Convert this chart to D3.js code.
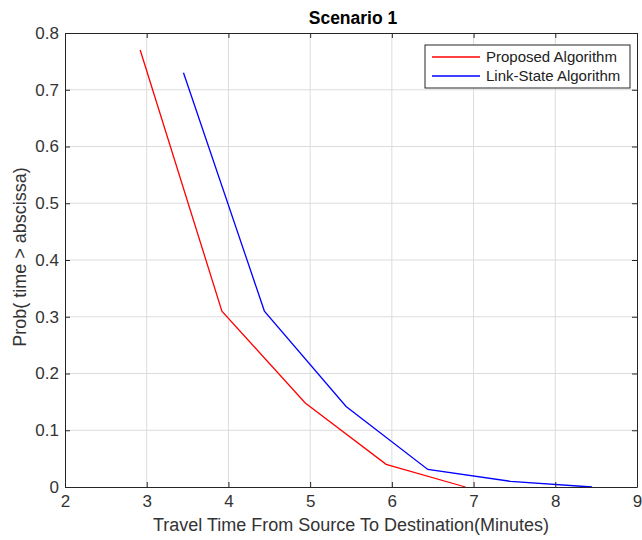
<!DOCTYPE html>
<html><head><meta charset="utf-8">
<script src="https://cdn.jsdelivr.net/npm/d3@7"></script>
<style>body{margin:0;background:#fff;}svg{display:block;font-family:"Liberation Sans",Arial,sans-serif;}</style>
</head><body>
<script>
const title = "Scenario 1";
const xLabel = "Travel Time From Source To Destination(Minutes)";
const yLabel = "Prob( time > abscissa)";
const xTicks = [2,3,4,5,6,7,8,9];
const yTicks = [0,0.1,0.2,0.3,0.4,0.5,0.6,0.7,0.8];
const seriesNames = ["Proposed Algorithm","Link-State Algorithm"];
const seriesColors = ["#ff0000","#0000ff"];
const proposedX = [2.92, 3.92, 4.94, 5.93, 6.9];
const proposedY = [0.77, 0.31, 0.148, 0.04, 0];
const linkX = [3.45, 4.44, 5.44, 6.44, 7.45, 8.45];
const linkY = [0.73, 0.31, 0.142, 0.031, 0.01, 0];

(function(){
const W = 642, H = 540;
const m = {left:65, right:5, top:33, bottom:53};
const svg = d3.select("body").append("svg").attr("width",W).attr("height",H);
const x = d3.scaleLinear().domain([2,9]).range([m.left, W-m.right]);
const y = d3.scaleLinear().domain([0,0.8]).range([H-m.bottom, m.top]);
const x0=m.left, x1=W-m.right, y0=H-m.bottom, y1=m.top;

// grid
svg.append("g").selectAll("line").data(xTicks.slice(1,-1)).join("line")
  .attr("x1",d=>x(d)).attr("x2",d=>x(d)).attr("y1",y0).attr("y2",y1)
  .attr("stroke","#dcdcdc").attr("stroke-width",1);
svg.append("g").selectAll("line").data(yTicks.slice(1,-1)).join("line")
  .attr("y1",d=>y(d)).attr("y2",d=>y(d)).attr("x1",x0).attr("x2",x1)
  .attr("stroke","#dcdcdc").attr("stroke-width",1);

// series
const line = d3.line().x(d=>x(d[0])).y(d=>y(d[1]));
const sData = [d3.zip(proposedX, proposedY), d3.zip(linkX, linkY)];
sData.forEach((s,i)=>{
  svg.append("path").datum(s).attr("d",line).attr("fill","none")
    .attr("stroke",seriesColors[i]).attr("stroke-width",1.3);
});

// axes
const axisColor = "#262626";
const gB = svg.append("g").attr("transform",`translate(0,${y0})`)
  .call(d3.axisBottom(x).tickValues(xTicks).tickFormat(d3.format("d")).tickSizeInner(-5).tickSizeOuter(0).tickPadding(8));
const gT = svg.append("g").attr("transform",`translate(0,${y1})`)
  .call(d3.axisTop(x).tickValues(xTicks).tickFormat("").tickSizeInner(-5).tickSizeOuter(0));
const gL = svg.append("g").attr("transform",`translate(${x0},0)`)
  .call(d3.axisLeft(y).tickValues(yTicks).tickFormat(d=>d===0?"0":d3.format(".1f")(d)).tickSizeInner(-5).tickSizeOuter(0).tickPadding(6));
const gR = svg.append("g").attr("transform",`translate(${x1},0)`)
  .call(d3.axisRight(y).tickValues(yTicks).tickFormat("").tickSizeInner(-5).tickSizeOuter(0));
[gB,gT,gL,gR].forEach(g=>{
  g.select(".domain").attr("stroke",axisColor);
  g.selectAll(".tick line").attr("stroke",axisColor);
  g.selectAll("text").attr("fill","#333").style("font-size","17px").style("font-family","'Liberation Sans',Arial,sans-serif");
});

// title and labels
svg.append("text").attr("x",(x0+x1)/2+2).attr("y",24).attr("text-anchor","middle")
  .style("font-weight","bold").style("font-size","17.5px").attr("fill","#000").text(title);
svg.append("text").attr("x",(x0+x1)/2).attr("y",531).attr("text-anchor","middle")
  .style("font-size","18px").attr("fill","#333").text(xLabel);
svg.append("text").attr("transform",`translate(26,${(y0+y1)/2-3}) rotate(-90)`).attr("text-anchor","middle")
  .style("font-size","18px").attr("fill","#333").text(yLabel);

// legend
const lg = svg.append("g");
lg.append("rect").attr("x",425).attr("y",45).attr("width",205).attr("height",43)
  .attr("fill","#fff").attr("stroke","#262626").attr("stroke-width",1);
seriesNames.forEach((n,i)=>{
  const yy = 57 + i*19;
  lg.append("line").attr("x1",432).attr("x2",480).attr("y1",yy).attr("y2",yy)
    .attr("stroke",seriesColors[i]).attr("stroke-width",1.3);
  lg.append("text").attr("x",486).attr("y",yy+5).style("font-size","15px").attr("fill","#222").text(n);
});
})();
</script>
</body></html>
